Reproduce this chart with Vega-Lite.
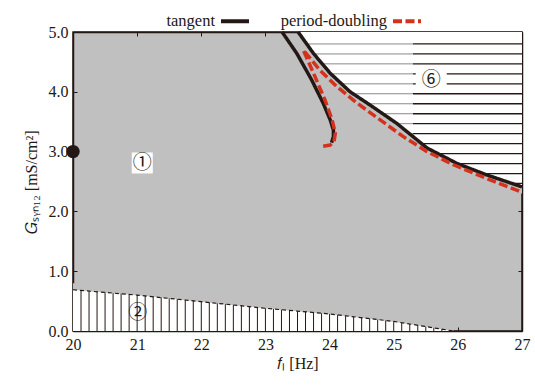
{
  "$schema": "https://vega.github.io/schema/vega-lite/v6.json",
  "width": 449,
  "height": 299,
  "autosize": {"type": "none"},
  "padding": {"left": 73, "top": 32, "right": 13, "bottom": 54},
  "background": "white",
  "config": {
    "view": {"fill": "#c0c0c0", "stroke": "#231815", "strokeWidth": 1.5},
    "axis": {
      "domainColor": "#231815", "domainWidth": 1.5,
      "tickColor": "#231815", "tickWidth": 1, "tickSize": -4,
      "labelFont": "Liberation Serif", "labelFontSize": 16, "labelColor": "#231815", "labelFlush": false,
      "titleFont": "Liberation Serif", "titleFontSize": 16, "titleFontWeight": "normal", "titleColor": "#231815",
      "grid": false
    }
  },
  "datasets": {
    "curves": [
      {"type": "tangent", "branch": "A", "i": 1, "f": 23.26, "g": 5.0},
      {"type": "tangent", "branch": "A", "i": 2, "f": 23.49, "g": 4.64},
      {"type": "tangent", "branch": "A", "i": 3, "f": 23.72, "g": 4.2},
      {"type": "tangent", "branch": "A", "i": 4, "f": 23.9, "g": 3.81},
      {"type": "tangent", "branch": "A", "i": 5, "f": 24.01, "g": 3.53},
      {"type": "tangent", "branch": "A", "i": 6, "f": 24.06, "g": 3.36},
      {"type": "tangent", "branch": "A", "i": 7, "f": 24.06, "g": 3.25},
      {"type": "tangent", "branch": "A", "i": 8, "f": 24.03, "g": 3.15},
      {"type": "tangent", "branch": "B", "i": 1, "f": 23.51, "g": 5.0},
      {"type": "tangent", "branch": "B", "i": 2, "f": 23.75, "g": 4.64},
      {"type": "tangent", "branch": "B", "i": 3, "f": 24.01, "g": 4.31},
      {"type": "tangent", "branch": "B", "i": 4, "f": 24.32, "g": 4.0},
      {"type": "tangent", "branch": "B", "i": 5, "f": 24.63, "g": 3.78},
      {"type": "tangent", "branch": "B", "i": 6, "f": 25.05, "g": 3.47},
      {"type": "tangent", "branch": "B", "i": 7, "f": 25.52, "g": 3.06},
      {"type": "tangent", "branch": "B", "i": 8, "f": 25.99, "g": 2.8},
      {"type": "tangent", "branch": "B", "i": 9, "f": 26.45, "g": 2.61},
      {"type": "tangent", "branch": "B", "i": 10, "f": 27.0, "g": 2.41},
      {"type": "period-doubling", "branch": "C", "i": 1, "f": 23.9, "g": 3.09},
      {"type": "period-doubling", "branch": "C", "i": 2, "f": 24.01, "g": 3.11},
      {"type": "period-doubling", "branch": "C", "i": 3, "f": 24.07, "g": 3.17},
      {"type": "period-doubling", "branch": "C", "i": 4, "f": 24.09, "g": 3.31},
      {"type": "period-doubling", "branch": "C", "i": 5, "f": 24.04, "g": 3.53},
      {"type": "period-doubling", "branch": "C", "i": 6, "f": 23.93, "g": 3.86},
      {"type": "period-doubling", "branch": "C", "i": 7, "f": 23.75, "g": 4.31},
      {"type": "period-doubling", "branch": "C", "i": 8, "f": 23.59, "g": 4.7},
      {"type": "period-doubling", "branch": "C", "i": 9, "f": 23.85, "g": 4.36},
      {"type": "period-doubling", "branch": "C", "i": 10, "f": 24.11, "g": 4.09},
      {"type": "period-doubling", "branch": "C", "i": 11, "f": 24.43, "g": 3.81},
      {"type": "period-doubling", "branch": "C", "i": 12, "f": 24.79, "g": 3.53},
      {"type": "period-doubling", "branch": "C", "i": 13, "f": 25.15, "g": 3.25},
      {"type": "period-doubling", "branch": "C", "i": 14, "f": 25.52, "g": 3.0},
      {"type": "period-doubling", "branch": "C", "i": 15, "f": 25.93, "g": 2.78},
      {"type": "period-doubling", "branch": "C", "i": 16, "f": 26.45, "g": 2.55},
      {"type": "period-doubling", "branch": "C", "i": 17, "f": 27.0, "g": 2.32}
    ],
    "upper": [
      {"f": 23.51, "g": 5.0}, {"f": 23.75, "g": 4.64}, {"f": 24.01, "g": 4.31},
      {"f": 24.32, "g": 4.0}, {"f": 24.63, "g": 3.78}, {"f": 25.05, "g": 3.47},
      {"f": 25.52, "g": 3.06}, {"f": 25.99, "g": 2.8}, {"f": 26.45, "g": 2.61},
      {"f": 27.0, "g": 2.41}
    ],
    "bound2": [
      {"f": 20.0, "g": 0.69}, {"f": 21.0, "g": 0.6}, {"f": 22.0, "g": 0.49},
      {"f": 23.0, "g": 0.38}, {"f": 24.0, "g": 0.285}, {"f": 25.0, "g": 0.16},
      {"f": 25.93, "g": 0.0}
    ],
    "vhatch": [
      {"f": 20.125}, {"f": 20.25}, {"f": 20.375}, {"f": 20.5}, {"f": 20.625}, {"f": 20.75}, {"f": 20.875},
      {"f": 21.0}, {"f": 21.125}, {"f": 21.25}, {"f": 21.375}, {"f": 21.5}, {"f": 21.625}, {"f": 21.75}, {"f": 21.875},
      {"f": 22.0}, {"f": 22.125}, {"f": 22.25}, {"f": 22.375}, {"f": 22.5}, {"f": 22.625}, {"f": 22.75}, {"f": 22.875},
      {"f": 23.0}, {"f": 23.125}, {"f": 23.25}, {"f": 23.375}, {"f": 23.5}, {"f": 23.625}, {"f": 23.75}, {"f": 23.875},
      {"f": 24.0}, {"f": 24.125}, {"f": 24.25}, {"f": 24.375}, {"f": 24.5}, {"f": 24.625}, {"f": 24.75}, {"f": 24.875},
      {"f": 25.0}, {"f": 25.125}, {"f": 25.25}, {"f": 25.375}, {"f": 25.5}, {"f": 25.625}, {"f": 25.75}, {"f": 25.875}
    ],
    "hhatch": [
      {"g": 4.8}, {"g": 4.633}, {"g": 4.467}, {"g": 4.3}, {"g": 4.133}, {"g": 3.967},
      {"g": 3.8}, {"g": 3.633}, {"g": 3.467}, {"g": 3.3}, {"g": 3.133}, {"g": 2.967},
      {"g": 2.8}, {"g": 2.633}, {"g": 2.467}
    ],
    "labels": [
      {"label": "①", "f": 21.08, "g": 2.81},
      {"label": "②", "f": 21.01, "g": 0.3},
      {"label": "⑥", "f": 25.585, "g": 4.19}
    ],
    "marker": [{"f": 20.0, "g": 3.0}]
  },
  "layer": [
    {
      "layer": [
        {
          "data": {"name": "upper"},
          "mark": {"type": "area", "fill": "white"},
          "encoding": {
            "x": {"field": "f", "type": "quantitative", "scale": {"domain": [20, 27], "nice": false, "zero": false},
                  "axis": {"title": "𝑓ₗ [Hz]", "values": [20, 21, 22, 23, 24, 25, 26, 27], "format": "d", "labelPadding": 9, "titlePadding": 3}},
            "y": {"field": "g", "type": "quantitative", "scale": {"domain": [0, 5], "nice": false},
                  "axis": {"title": "𝐺ₛᵧₙ₁₂  [mS/cm²]", "values": [0, 1, 2, 3, 4, 5], "format": ".1f", "labelPadding": 9, "titlePadding": 9}},
            "y2": {"datum": 5}
          }
        },
        {
          "data": {"name": "hhatch"},
          "mark": {"type": "rule", "color": "#8a8a8a", "strokeWidth": 1},
          "encoding": {"x": {"datum": 23.55}, "x2": {"datum": 25.3}, "y": {"field": "g", "type": "quantitative"}}
        },
        {
          "data": {"name": "hhatch"},
          "mark": {"type": "rule", "color": "#231815", "strokeWidth": 1.3},
          "encoding": {"x": {"datum": 25.3}, "x2": {"datum": 27}, "y": {"field": "g", "type": "quantitative"}}
        },
        {
          "data": {"name": "upper"},
          "mark": {"type": "area", "fill": "#c0c0c0"},
          "encoding": {"x": {"field": "f", "type": "quantitative"}, "y": {"field": "g", "type": "quantitative"}, "y2": {"datum": 2.3}}
        },
        {
          "data": {"name": "bound2"},
          "mark": {"type": "area", "fill": "white"},
          "encoding": {"x": {"field": "f", "type": "quantitative"}, "y": {"field": "g", "type": "quantitative"}, "y2": {"datum": 0}}
        },
        {
          "data": {"name": "vhatch"},
          "mark": {"type": "rule", "color": "#231815", "strokeWidth": 1},
          "encoding": {"x": {"field": "f", "type": "quantitative"}, "y": {"datum": 0}, "y2": {"datum": 0.72}}
        },
        {
          "data": {"name": "bound2"},
          "mark": {"type": "area", "fill": "#c0c0c0"},
          "encoding": {"x": {"field": "f", "type": "quantitative"}, "y": {"field": "g", "type": "quantitative"}, "y2": {"datum": 0.8}}
        },
        {
          "data": {"name": "bound2"},
          "mark": {"type": "line", "stroke": "#231815", "strokeWidth": 1.2, "strokeDash": [4, 3]},
          "encoding": {"x": {"field": "f", "type": "quantitative"}, "y": {"field": "g", "type": "quantitative"}}
        },
        {
          "data": {"name": "curves"},
          "mark": {"type": "line", "strokeWidth": 3.5},
          "encoding": {
            "x": {"field": "f", "type": "quantitative"},
            "y": {"field": "g", "type": "quantitative"},
            "detail": {"field": "branch"},
            "order": {"field": "i", "type": "quantitative"},
            "color": {"field": "type", "type": "nominal",
              "scale": {"domain": ["tangent", "period-doubling"], "range": ["#231815", "#d2321e"]},
              "legend": {"title": null, "orient": "none", "legendX": 146, "legendY": -27, "direction": "horizontal",
                "symbolType": "stroke", "symbolSize": 784, "symbolStrokeWidth": 4,
                "labelFont": "Liberation Serif", "labelFontSize": 16.5, "labelColor": "#231815",
                "labelAlign": "right", "labelOffset": -36, "columnPadding": 23}},
            "strokeDash": {"field": "type", "type": "nominal",
              "scale": {"domain": ["tangent", "period-doubling"], "range": [[1, 0], [9, 3.5]]},
              "legend": {"title": null, "orient": "none", "legendX": 146, "legendY": -27, "direction": "horizontal",
                "symbolType": "stroke", "symbolSize": 784, "symbolStrokeWidth": 4,
                "labelFont": "Liberation Serif", "labelFontSize": 16.5, "labelColor": "#231815",
                "labelAlign": "right", "labelOffset": -36, "columnPadding": 23}}
          }
        },
        {
          "data": {"name": "marker"},
          "mark": {"type": "circle", "size": 180, "color": "#231815", "opacity": 1, "clip": false},
          "encoding": {"x": {"field": "f", "type": "quantitative"}, "y": {"field": "g", "type": "quantitative"}}
        },
        {
          "data": {"name": "labels"},
          "transform": [{"filter": "datum.label === '①'"}],
          "mark": {"type": "square", "size": 441, "color": "white", "opacity": 1},
          "encoding": {"x": {"field": "f", "type": "quantitative"}, "y": {"field": "g", "type": "quantitative"}}
        },
        {
          "data": {"name": "labels"},
          "transform": [{"filter": "datum.label === '⑥'"}],
          "mark": {"type": "point", "shape": "M-1.3,-0.8H1.3V0.8H-1.3Z", "size": 568, "filled": true, "color": "white", "opacity": 1},
          "encoding": {"x": {"field": "f", "type": "quantitative"}, "y": {"field": "g", "type": "quantitative"}}
        },
        {
          "data": {"name": "labels"},
          "mark": {"type": "text", "font": "Noto Sans CJK JP", "fontSize": 19, "color": "#231815", "baseline": "middle", "align": "center"},
          "encoding": {"x": {"field": "f", "type": "quantitative"}, "y": {"field": "g", "type": "quantitative"}, "text": {"field": "label"}}
        }
      ]
    },
    {
      "data": {"name": "marker"},
      "mark": {"type": "point", "opacity": 0},
      "encoding": {
        "x": {"field": "f", "type": "quantitative", "axis": {"orient": "top", "labels": false, "title": null, "values": [20, 21, 22, 23, 24, 25, 26, 27]}},
        "y": {"field": "g", "type": "quantitative", "axis": {"orient": "right", "labels": false, "title": null, "values": [0, 1, 2, 3, 4, 5]}}
      }
    }
  ],
  "resolve": {"axis": {"x": "independent", "y": "independent"}}
}
